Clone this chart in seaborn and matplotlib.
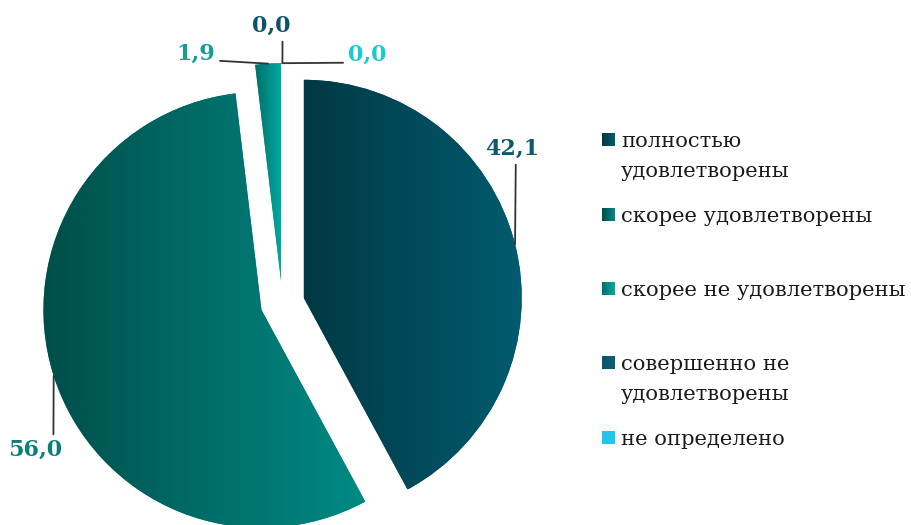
import numpy as np
import matplotlib
matplotlib.use("Agg")
import matplotlib.pyplot as plt
import seaborn as sns

# data
categories = ["полностью\nудовлетворены", "скорее удовлетворены",
              "скорее не удовлетворены", "совершенно не\nудовлетворены",
              "не определено"]
values = [42.1, 56.0, 1.9, 0.0, 0.0]

# styles
grad_left = ["#003944", "#004e4a", "#006f6b", "#0b5568", "#22c5ee"]
grad_right = ["#005b6e", "#008a85", "#00aa9f", "#0f6075", "#22c5ee"]
label_colors = ["#0d5a6e", "#0a7f7a", "#149f96", "#0e5468", "#18cbd0"]

# layout (pixels, y measured from top)
W, H = 911, 525
R = 218
center = (282.4, H - 303.2)
explode = [22, 22, 22, 22, 22]
label_pos = [(512, 155), (35, 456), (196, 60), (271, 32), (367, 61)]
label_relpos = [(0.57, 0.0), (0.84, 1.0), (1.0, 0.2), (0.8, 0.0), (0.0, 0.15)]
legend_top = [133, 208, 282, 356, 431]

sns.set_theme(style="white")
plt.rcParams["font.family"] = ["DejaVu Serif"]

fig = plt.figure(figsize=(W / 100, H / 100), dpi=100)
ax = fig.add_axes([0, 0, 1, 1])

wedges, _ = ax.pie(values, explode=explode, center=center, radius=R,
                   startangle=90, counterclock=False,
                   wedgeprops=dict(linewidth=0))

grad = np.linspace(0, 1, 256).reshape(1, -1)
for w, v, c0, c1 in zip(wedges, values, grad_left, grad_right):
    w.set_facecolor(c1)
    if v <= 0:
        continue
    ext = w.get_path().get_extents()
    cmap = sns.blend_palette([c0, c1], as_cmap=True)
    img = ax.imshow(grad, cmap=cmap, extent=[ext.x0, ext.x1, ext.y0, ext.y1],
                    aspect="auto", interpolation="bilinear", zorder=w.get_zorder() + 0.1)
    img.set_clip_path(w)

# value labels with leader lines
for w, v, col, pos, rp in zip(wedges, values, label_colors, label_pos, label_relpos):
    ang = np.deg2rad((w.theta1 + w.theta2) / 2)
    anchor = (w.center[0] + R * np.cos(ang), w.center[1] + R * np.sin(ang))
    txt = f"{v:.1f}".replace(".", ",")
    ax.annotate(txt, xy=anchor, xytext=(pos[0], H - pos[1]), textcoords="data",
                ha="center", va="baseline", fontsize=16, fontweight="bold", color=col,
                arrowprops=dict(arrowstyle="-", color="#333333", lw=1.3,
                                relpos=rp, shrinkA=1, shrinkB=0), zorder=5)

# legend
for cat, top, c0, c1 in zip(categories, legend_top, grad_left, grad_right):
    cmap = sns.blend_palette([c0, c1], as_cmap=True)
    ax.imshow(grad, cmap=cmap, extent=[602, 615, H - top - 13, H - top],
              aspect="auto", interpolation="bilinear", zorder=3)
    ax.text(621, H - top + 1, cat, ha="left", va="top", fontsize=15.2,
            color="#1a1a1a", linespacing=1.75)

ax.set_xlim(0, W)
ax.set_ylim(0, H)
ax.set_aspect("auto")
ax.axis("off")

fig.savefig("out.png", dpi=100, facecolor="white")
